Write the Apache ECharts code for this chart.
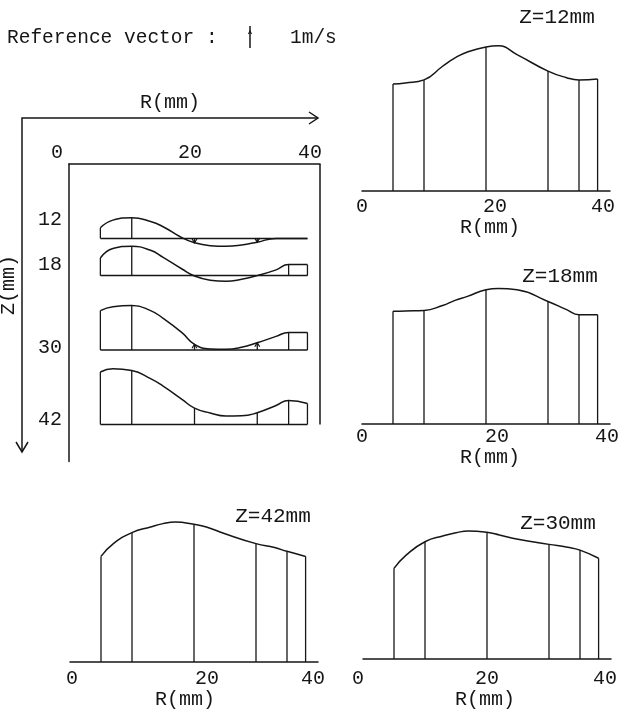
<!DOCTYPE html>
<html><head><meta charset="utf-8">
<script src="https://cdn.jsdelivr.net/npm/echarts@6/dist/echarts.min.js"></script>
<style>html,body{margin:0;padding:0;background:#fff;} #c{width:633px;height:715px;}</style>
</head><body><div id="c"></div>
<script>
// ================= DATA =================
const tickLabels = [0, 20, 40];              // R(mm) tick labels
const zAxisLabels = [12, 18, 30, 42];        // Z(mm) labels of the overview
const vectorR = [5, 10, 20, 30, 35, 38];     // radial stations carrying a vector (mm)

// Overview (left): radial velocity profiles at four Z stations, m/s
const leftCurveR = [5, 7, 10, 13, 15, 18, 20, 22.5, 25, 27.5, 30, 33, 35, 38];
const leftZ12 = [0.48, 0.83, 0.94, 0.77, 0.53, 0.03, -0.20, -0.33, -0.36, -0.30, -0.17, 0.00, 0.00, 0.00];
const leftZ18 = [0.80, 1.23, 1.33, 1.15, 0.83, 0.30, -0.02, -0.21, -0.26, -0.17, 0.00, 0.26, 0.50, 0.50];
const leftZ30 = [1.79, 1.97, 2.02, 1.79, 1.44, 0.79, 0.26, 0.05, 0.03, 0.12, 0.33, 0.62, 0.80, 0.80];
const leftZ42 = [2.38, 2.53, 2.45, 2.08, 1.74, 1.14, 0.74, 0.52, 0.38, 0.39, 0.53, 0.86, 1.09, 0.95];

// Detail panels: velocity profiles
const rightCurveR = [5, 7, 10, 13, 15, 17, 20, 22, 25, 30, 33, 35, 38];
const prof12 = [4.86, 4.91, 5.05, 5.67, 6.05, 6.32, 6.55, 6.60, 6.20, 5.45, 5.15, 5.05, 5.09];
const prof18 = [5.12, 5.14, 5.16, 5.39, 5.62, 5.80, 6.10, 6.16, 6.10, 5.57, 5.20, 4.97, 4.97];
const prof42 = [4.80, 5.38, 5.88, 6.14, 6.29, 6.36, 6.26, 6.14, 5.83, 5.38, 5.20, 5.03, 4.80];
const prof30 = [4.12, 4.73, 5.33, 5.60, 5.74, 5.82, 5.76, 5.64, 5.44, 5.21, 5.08, 4.95, 4.58];

const REF_VECTOR = 1; // m/s, reference vector value

// ================= STYLE / LAYOUT =================
const FONT = 'Liberation Mono';
const INK = '#161616';
const LW = 1.5;
const REF_MM = 3.55; // drawing scale of the overview: Z-mm per 1 m/s

const leftProfiles = [
  {z: 12, vals: leftZ12}, {z: 18, vals: leftZ18},
  {z: 30, vals: leftZ30}, {z: 42, vals: leftZ42}
];

const panels = [
  {title: 'Z=12mm', vals: prof12, grid: {left: 362, top: 37, width: 248, height: 154},
   titlePos: [557, 17], shifts: {0: 0, 20: 9, 40: -7}, margin: 6, nameGap: 24, nameShift: 4},
  {title: 'Z=18mm', vals: prof18, grid: {left: 362, top: 270, width: 248, height: 154},
   titlePos: [560, 276], shifts: {0: 0, 20: 11, 40: -3}, margin: 3, nameGap: 22, nameShift: 4},
  {title: 'Z=42mm', vals: prof42, grid: {left: 70, top: 508, width: 248, height: 154},
   titlePos: [273, 516], shifts: {0: 2, 20: 13, 40: -5}, margin: 7, nameGap: 26, nameShift: -9},
  {title: 'Z=30mm', vals: prof30, grid: {left: 363, top: 505, width: 248, height: 154},
   titlePos: [558, 523], shifts: {0: -5, 20: 0, 40: -6}, margin: 10, nameGap: 30, nameShift: -2}
];

function hPad(d) { return d >= 0 ? [0, 0, 0, 2 * d] : [0, -2 * d, 0, 0]; }

function xLabels(shifts, margin) {
  const rich = {};
  tickLabels.forEach(t => {
    rich['t' + t] = {fontFamily: FONT, fontSize: 20, color: INK, padding: hPad(shifts[t] || 0)};
  });
  return {
    margin: margin, fontFamily: FONT, fontSize: 20, color: INK,
    formatter: v => tickLabels.includes(v) ? '{t' + v + '|' + v + '}' : '',
    rich: rich
  };
}

const zShifts = {12: 18.4, 18: 10.6, 30: 2, 42: 4.4};
function zLabels() {
  const rich = {};
  zAxisLabels.forEach(z => {
    rich['z' + z] = {fontFamily: FONT, fontSize: 20, color: INK, padding: [0, 0, 2 * zShifts[z], 0]};
  });
  return {
    margin: 7, fontFamily: FONT, fontSize: 20, color: INK,
    formatter: v => zAxisLabels.includes(v) ? '{z' + v + '|' + v + '}' : '',
    rich: rich
  };
}

const axisLineStyle = {show: true, lineStyle: {color: INK, width: LW}};

const grids = [{left: 69, top: 164, width: 251, height: 297.6}];
const xAxes = [{
  gridIndex: 0, type: 'value', position: 'top', min: 0, max: 40, interval: 20,
  axisLine: axisLineStyle, axisTick: {show: false}, splitLine: {show: false},
  axisLabel: xLabels({0: -12, 20: -4.5, 40: -10}, 1)
}];
const yAxes = [{
  gridIndex: 0, type: 'value', inverse: true, min: 0, max: 48, interval: 6,
  axisLine: axisLineStyle, axisTick: {show: false}, splitLine: {show: false},
  axisLabel: zLabels()
}];

const series = [];

// Overview profiles
leftProfiles.forEach(p => {
  series.push({
    type: 'line', xAxisIndex: 0, yAxisIndex: 0, smooth: 0.5,
    symbol: 'none', silent: true,
    lineStyle: {color: INK, width: LW},
    data: leftCurveR.map((r, j) => [r, p.z - p.vals[j] * REF_MM])
  });
  series.push({
    type: 'line', xAxisIndex: 0, yAxisIndex: 0, symbol: 'none', silent: true,
    lineStyle: {color: INK, width: LW},
    data: [[leftCurveR[0], p.z], [leftCurveR[leftCurveR.length - 1], p.z]]
  });
});

const leftVectors = [];
leftProfiles.forEach(p => {
  vectorR.forEach(r => {
    const v = p.vals[leftCurveR.indexOf(r)];
    leftVectors.push([r, p.z, v]);
  });
});
series.push({
  type: 'custom', coordinateSystem: 'cartesian2d', xAxisIndex: 0, yAxisIndex: 0, silent: true,
  data: leftVectors,
  renderItem: (params, api) => {
    const r = api.value(0), z = api.value(1), v = api.value(2);
    if (Math.abs(v) < 1e-9) return null;
    const p0 = api.coord([r, z]);
    const p1 = api.coord([r, z - v * REF_MM]);
    const dir = p0[1] > p1[1] ? 1 : -1;
    const children = [
      {type: 'line', shape: {x1: p0[0], y1: p0[1], x2: p1[0], y2: p1[1]}, style: {stroke: INK, lineWidth: 1.3}}
    ];
    // small vectors show their arrowhead clear of the profile curve
    if (Math.abs(v) >= 0.06 && Math.abs(v) < 0.4) {
      children.push({type: 'polyline', shape: {points: [[p1[0] - 2.5, p1[1] + 4 * dir], [p1[0], p1[1]], [p1[0] + 2.5, p1[1] + 4 * dir]]},
        style: {stroke: INK, lineWidth: 1.2, fill: null}});
    }
    return {type: 'group', children: children};
  }
});

// Detail panels
panels.forEach((pn, k) => {
  const gi = k + 1;
  grids.push(pn.grid);
  xAxes.push({
    gridIndex: gi, type: 'value', min: 0, max: 40, interval: 20,
    axisLine: axisLineStyle, axisTick: {show: false}, splitLine: {show: false},
    axisLabel: xLabels(pn.shifts, pn.margin),
    name: 'R(mm)', nameLocation: 'middle', nameGap: pn.nameGap,
    nameTextStyle: {fontFamily: FONT, fontSize: 20, color: INK, padding: hPad(pn.nameShift)}
  });
  yAxes.push({gridIndex: gi, type: 'value', min: 0, max: 7, show: false});
  series.push({
    type: 'line', xAxisIndex: gi, yAxisIndex: gi, smooth: 0.5,
    symbol: 'none', silent: true, lineStyle: {color: INK, width: LW},
    data: rightCurveR.map((r, j) => [r, pn.vals[j]])
  });
  series.push({
    type: 'custom', coordinateSystem: 'cartesian2d', xAxisIndex: gi, yAxisIndex: gi, silent: true,
    data: vectorR.map(r => [r, pn.vals[rightCurveR.indexOf(r)]]),
    renderItem: (params, api) => {
      const p0 = api.coord([api.value(0), 0]);
      const p1 = api.coord([api.value(0), api.value(1)]);
      return {type: 'line', shape: {x1: p0[0], y1: p0[1], x2: p1[0], y2: p1[1]}, style: {stroke: INK, lineWidth: 1.3}};
    }
  });
});

const chart = echarts.init(document.getElementById('c'), null, {renderer: 'canvas'});
chart.setOption({
  animation: false, backgroundColor: '#fff',
  grid: grids, xAxis: xAxes, yAxis: yAxes, series: series
});

// ---- annotations (using the overview's scale) ----
const yZ0 = chart.convertToPixel({yAxisIndex: 0}, 0);
const refLen = chart.convertToPixel({yAxisIndex: 0}, REF_VECTOR * REF_MM) - yZ0;
const xBoxR = chart.convertToPixel({xAxisIndex: 0}, 40);
const yBoxB = chart.convertToPixel({yAxisIndex: 0}, 42);

function txt(text, x, y, align, size, rot) {
  return {type: 'text', x: x, y: y, rotation: rot || 0, silent: true,
    style: {text: text, fill: INK, font: (size || 20) + 'px "' + FONT + '"',
      align: align || 'center', verticalAlign: 'middle',
      textAlign: align || 'center', textVerticalAlign: 'middle'}};
}
const stroke = {stroke: INK, lineWidth: LW, fill: null};
const refX = 250, refBottom = 48;

const graphics = [
  txt('Reference vector :', 7, 38, 'left', 19.5),
  txt('1m/s', 290, 38, 'left', 19.5),
  {type: 'line', silent: true, shape: {x1: refX, y1: refBottom, x2: refX, y2: refBottom - refLen}, style: stroke},
  {type: 'polyline', silent: true, shape: {points: [[refX - 1.5, refBottom - refLen + 8], [refX, refBottom - refLen + 5], [refX + 1.5, refBottom - refLen + 8]]}, style: {stroke: INK, lineWidth: 1.1, fill: null}},
  txt('R(mm)', 170, 103, 'center', 20),
  txt('Z(mm)', 9, 285, 'center', 20, Math.PI / 2),
  {type: 'polyline', silent: true, shape: {points: [[22, 452], [22, 118], [318, 118]]}, style: stroke},
  {type: 'polyline', silent: true, shape: {points: [[309, 112], [318, 118], [309, 124]]}, style: stroke},
  {type: 'polyline', silent: true, shape: {points: [[16, 442], [22, 452], [28, 442]]}, style: stroke},
  {type: 'line', silent: true, shape: {x1: xBoxR, y1: yZ0, x2: xBoxR, y2: yBoxB}, style: stroke}
];
panels.forEach(pn => graphics.push(txt(pn.title, pn.titlePos[0], pn.titlePos[1], 'center', 21)));

chart.setOption({graphic: {elements: graphics}});
</script>
</body></html>
